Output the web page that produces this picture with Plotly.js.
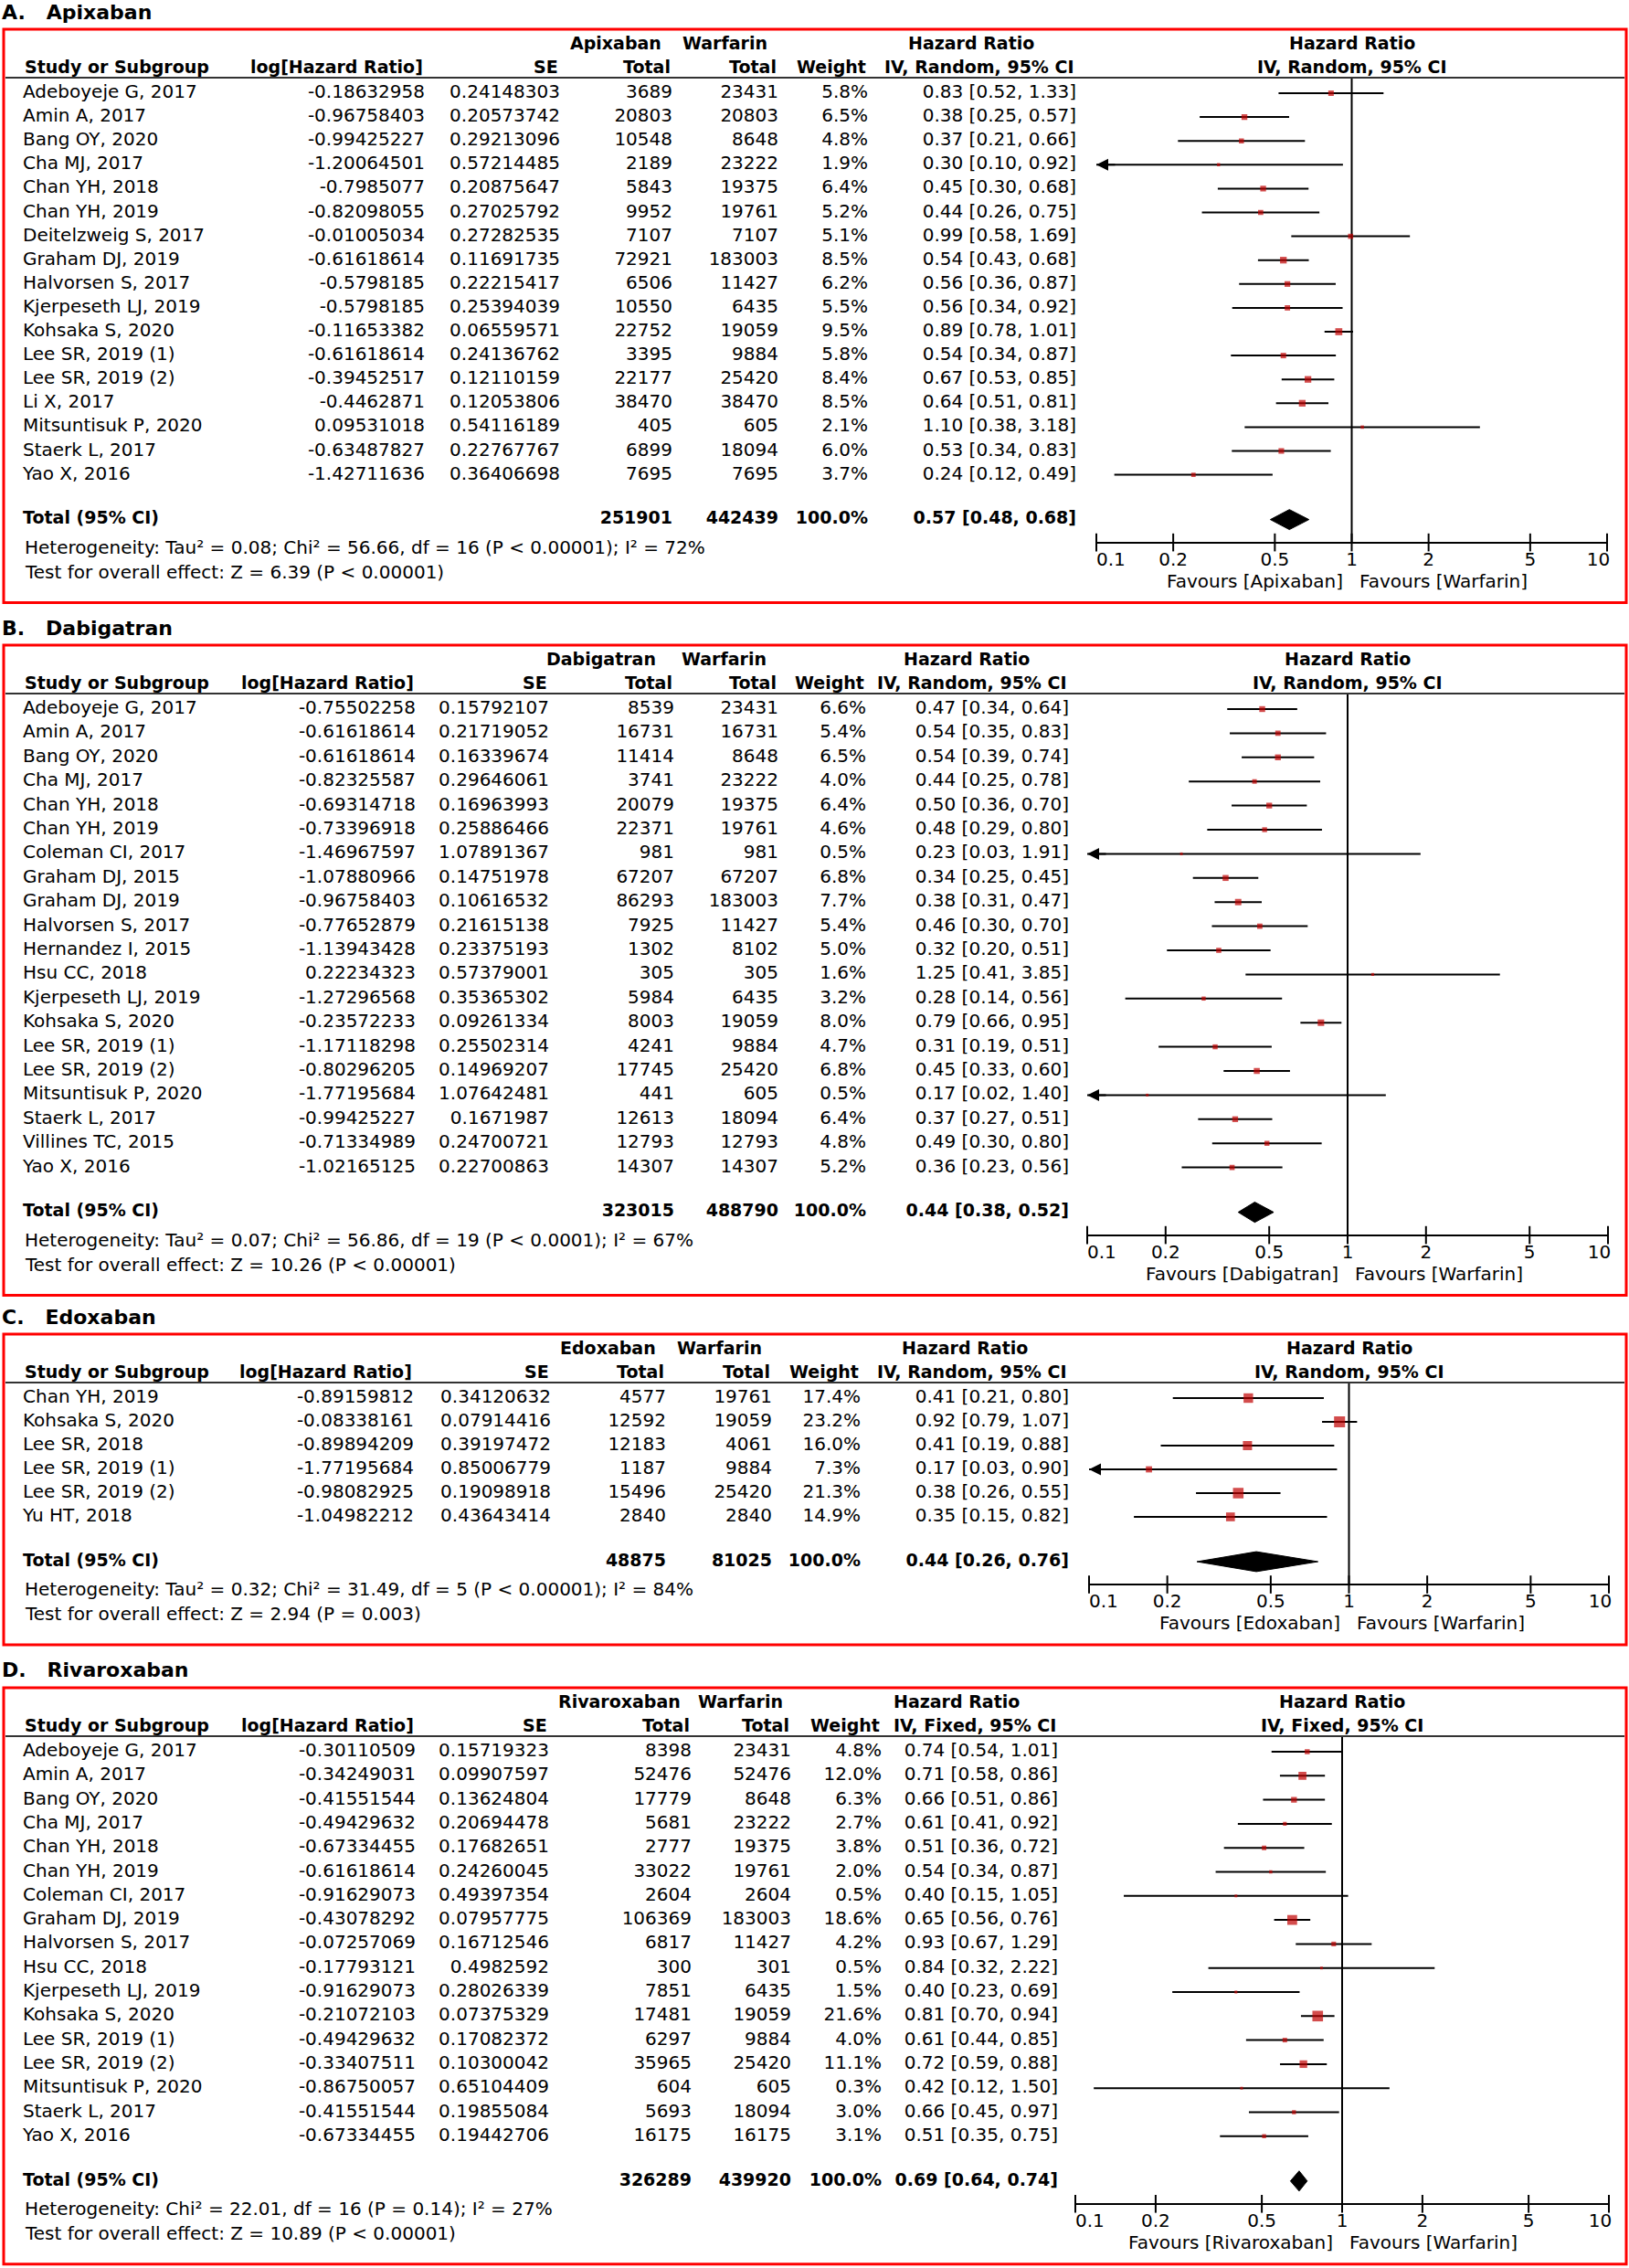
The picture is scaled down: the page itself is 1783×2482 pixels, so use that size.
<!DOCTYPE html>
<html>
<head>
<meta charset="utf-8">
<script src="https://cdn.plot.ly/plotly-3.0.1.min.js"></script>
<style>
body{margin:0;background:#fff;}
#plot{width:1783px;height:2482px;}
</style>
</head>
<body>
<div id="plot"></div>
<script>
/*A. Apixaban*/
apixStudy=['Adeboyeje G, 2017','Amin A, 2017','Bang OY, 2020','Cha MJ, 2017','Chan YH, 2018','Chan YH, 2019','Deitelzweig S, 2017','Graham DJ, 2019','Halvorsen S, 2017','Kjerpeseth LJ, 2019','Kohsaka S, 2020','Lee SR, 2019 (1)','Lee SR, 2019 (2)','Li X, 2017','Mitsuntisuk P, 2020','Staerk L, 2017','Yao X, 2016'];
apixLogHR=[-0.18632958,-0.96758403,-0.99425227,-1.20064501,-0.7985077,-0.82098055,-0.01005034,-0.61618614,-0.5798185,-0.5798185,-0.11653382,-0.61618614,-0.39452517,-0.4462871,0.09531018,-0.63487827,-1.42711636];
apixSE=[0.24148303,0.20573742,0.29213096,0.57214485,0.20875647,0.27025792,0.27282535,0.11691735,0.22215417,0.25394039,0.06559571,0.24136762,0.12110159,0.12053806,0.54116189,0.22767767,0.36406698];
apixN=[3689,20803,10548,2189,5843,9952,7107,72921,6506,10550,22752,3395,22177,38470,405,6899,7695];
apixWarfN=[23431,20803,8648,23222,19375,19761,7107,183003,11427,6435,19059,9884,25420,38470,605,18094,7695];
apixWeight=[5.8,6.5,4.8,1.9,6.4,5.2,5.1,8.5,6.2,5.5,9.5,5.8,8.4,8.5,2.1,6.0,3.7];
apixPooled=[0.57,0.48,0.68];
apixHet='Heterogeneity: Tau² = 0.08; Chi² = 56.66, df = 16 (P < 0.00001); I² = 72%';
apixZ='Test for overall effect: Z = 6.39 (P < 0.00001)';

/*B. Dabigatran*/
dabiStudy=['Adeboyeje G, 2017','Amin A, 2017','Bang OY, 2020','Cha MJ, 2017','Chan YH, 2018','Chan YH, 2019','Coleman CI, 2017','Graham DJ, 2015','Graham DJ, 2019','Halvorsen S, 2017','Hernandez I, 2015','Hsu CC, 2018','Kjerpeseth LJ, 2019','Kohsaka S, 2020','Lee SR, 2019 (1)','Lee SR, 2019 (2)','Mitsuntisuk P, 2020','Staerk L, 2017','Villines TC, 2015','Yao X, 2016'];
dabiLogHR=[-0.75502258,-0.61618614,-0.61618614,-0.82325587,-0.69314718,-0.73396918,-1.46967597,-1.07880966,-0.96758403,-0.77652879,-1.13943428,0.22234323,-1.27296568,-0.23572233,-1.17118298,-0.80296205,-1.77195684,-0.99425227,-0.71334989,-1.02165125];
dabiSE=[0.15792107,0.21719052,0.16339674,0.29646061,0.16963993,0.25886466,1.07891367,0.14751978,0.10616532,0.21615138,0.23375193,0.57379001,0.35365302,0.09261334,0.25502314,0.14969207,1.07642481,0.1671987,0.24700721,0.22700863];
dabiN=[8539,16731,11414,3741,20079,22371,981,67207,86293,7925,1302,305,5984,8003,4241,17745,441,12613,12793,14307];
dabiWarfN=[23431,16731,8648,23222,19375,19761,981,67207,183003,11427,8102,305,6435,19059,9884,25420,605,18094,12793,14307];
dabiWeight=[6.6,5.4,6.5,4.0,6.4,4.6,0.5,6.8,7.7,5.4,5.0,1.6,3.2,8.0,4.7,6.8,0.5,6.4,4.8,5.2];
dabiPooled=[0.44,0.38,0.52];
dabiHet='Heterogeneity: Tau² = 0.07; Chi² = 56.86, df = 19 (P < 0.0001); I² = 67%';
dabiZ='Test for overall effect: Z = 10.26 (P < 0.00001)';

/*C. Edoxaban*/
edoxStudy=['Chan YH, 2019','Kohsaka S, 2020','Lee SR, 2018','Lee SR, 2019 (1)','Lee SR, 2019 (2)','Yu HT, 2018'];
edoxLogHR=[-0.89159812,-0.08338161,-0.89894209,-1.77195684,-0.98082925,-1.04982212];
edoxSE=[0.34120632,0.07914416,0.39197472,0.85006779,0.19098918,0.43643414];
edoxN=[4577,12592,12183,1187,15496,2840];
edoxWarfN=[19761,19059,4061,9884,25420,2840];
edoxWeight=[17.4,23.2,16.0,7.3,21.3,14.9];
edoxPooled=[0.44,0.26,0.76];
edoxHet='Heterogeneity: Tau² = 0.32; Chi² = 31.49, df = 5 (P < 0.00001); I² = 84%';
edoxZ='Test for overall effect: Z = 2.94 (P = 0.003)';

/*D. Rivaroxaban*/
rivaStudy=['Adeboyeje G, 2017','Amin A, 2017','Bang OY, 2020','Cha MJ, 2017','Chan YH, 2018','Chan YH, 2019','Coleman CI, 2017','Graham DJ, 2019','Halvorsen S, 2017','Hsu CC, 2018','Kjerpeseth LJ, 2019','Kohsaka S, 2020','Lee SR, 2019 (1)','Lee SR, 2019 (2)','Mitsuntisuk P, 2020','Staerk L, 2017','Yao X, 2016'];
rivaLogHR=[-0.30110509,-0.34249031,-0.41551544,-0.49429632,-0.67334455,-0.61618614,-0.91629073,-0.43078292,-0.07257069,-0.17793121,-0.91629073,-0.21072103,-0.49429632,-0.33407511,-0.86750057,-0.41551544,-0.67334455];
rivaSE=[0.15719323,0.09907597,0.13624804,0.20694478,0.17682651,0.24260045,0.49397354,0.07957775,0.16712546,0.4982592,0.28026339,0.07375329,0.17082372,0.10300042,0.65104409,0.19855084,0.19442706];
rivaN=[8398,52476,17779,5681,2777,33022,2604,106369,6817,300,7851,17481,6297,35965,604,5693,16175];
rivaWarfN=[23431,52476,8648,23222,19375,19761,2604,183003,11427,301,6435,19059,9884,25420,605,18094,16175];
rivaWeight=[4.8,12.0,6.3,2.7,3.8,2.0,0.5,18.6,4.2,0.5,1.5,21.6,4.0,11.1,0.3,3.0,3.1];
rivaPooled=[0.69,0.64,0.74];
rivaHet='Heterogeneity: Chi² = 22.01, df = 16 (P = 0.14); I² = 27%';
rivaZ='Test for overall effect: Z = 10.89 (P < 0.00001)';

/*forest axis ticks*/
tickVals=[0.1,0.2,0.5,1,2,5,10];
tickLbl=['0.1','0.2','0.5','1','2','5','10'];

panels=[
    {tag:'A.',drug:'Apixaban',method:'IV, Random, 95% CI',study:apixStudy,lhr:apixLogHR,se:apixSE,n1:apixN,n2:apixWarfN,wt:apixWeight,pooled:apixPooled,het:apixHet,z:apixZ},
    {tag:'B.',drug:'Dabigatran',method:'IV, Random, 95% CI',study:dabiStudy,lhr:dabiLogHR,se:dabiSE,n1:dabiN,n2:dabiWarfN,wt:dabiWeight,pooled:dabiPooled,het:dabiHet,z:dabiZ},
    {tag:'C.',drug:'Edoxaban',method:'IV, Random, 95% CI',study:edoxStudy,lhr:edoxLogHR,se:edoxSE,n1:edoxN,n2:edoxWarfN,wt:edoxWeight,pooled:edoxPooled,het:edoxHet,z:edoxZ},
    {tag:'D.',drug:'Rivaroxaban',method:'IV, Fixed, 95% CI',study:rivaStudy,lhr:rivaLogHR,se:rivaSE,n1:rivaN,n2:rivaWarfN,wt:rivaWeight,pooled:rivaPooled,het:rivaHet,z:rivaZ}
];

/*where each panel sits on the page (px): box top, row step, forest x extent, column right edges*/
spots=[
    {top:32,  step:26.1,f0:1200,f1:1759,c:[465,613,736,852,950,1178],grp:[726,842],hr:1063},
    {top:706, step:26.4,f0:1190,f1:1760,c:[455,601,738,852,948,1170],grp:[720,841],hr:1058},
    {top:1460,step:26.0,f0:1192,f1:1761,c:[453,603,729,845,942,1170],grp:[720,836],hr:1056},
    {top:1847,step:26.3,f0:1177,f1:1761,c:[455,601,757,866,965,1158],grp:[747,859],hr:1047}
];

W=1783; H=2482;
FONT='DejaVu Sans, Verdana, sans-serif';
function py(y){return 1-y/H;}
function ax(k){return k==1?'':k;}
function sum(a){var s=0;for(var i=0;i<a.length;i++)s+=a[i];return s;}
function ci(h,l,u){return h.toFixed(2)+' ['+l.toFixed(2)+', '+u.toFixed(2)+']';}

/*RevMan puts the end labels (nearly) flush with the end ticks*/
tickText=tickLbl.slice();
tickText[0]='\u00a0\u00a0\u00a0\u00a0\u00a0'+tickText[0];
tickText[tickText.length-1]=tickText[tickText.length-1]+'\u00a0\u00a0\u00a0';

data=[];
ann=[];
shp=[];
layout={
    width:W,height:H,
    margin:{l:0,r:0,t:0,b:0,pad:0},
    paper_bgcolor:'#fff',
    plot_bgcolor:'rgba(0,0,0,0)',
    showlegend:false,
    font:{family:FONT,size:20,color:'#000'}
};

function note(x,y,text,anchor,size,bold){
    ann.push({xref:'paper',yref:'paper',x:x/W,y:py(y),text:bold?'<b>'+text+'</b>':text,
        xanchor:anchor,yanchor:'middle',showarrow:false,font:{family:FONT,size:size,color:'#000'}});
}

for(p=0;p<4;p++){
    d=panels[p]; s=spots[p];
    n=d.study.length;
    ya='y'+ax(p+1); xt='x'+ax(p+1); xf='x'+(p+5);
    row0=s.top+70;
    totPx=row0+(n-1)*s.step+49;
    axPx=totPx+25;
    botPx=totPx+91;
    hlPx=s.top+53;
    toRow=function(v){return (v-row0)/s.step;};
    totR=toRow(totPx);
    axR=toRow(axPx);

    layout['yaxis'+ax(p+1)]={domain:[py(botPx),py(s.top)],range:[toRow(botPx),toRow(s.top)],visible:false,fixedrange:true};
    layout['xaxis'+ax(p+1)]={domain:[0,1],range:[0,W],anchor:ya,visible:false,fixedrange:true};
    layout['xaxis'+(p+5)]={type:'log',range:[-1,1],domain:[s.f0/W,s.f1/W],anchor:'free',position:py(axPx),
        showline:true,linecolor:'#000',linewidth:2,ticks:'',
        tickmode:'array',tickvals:tickVals,ticktext:tickText,tickfont:{family:FONT,size:20,color:'#000'},
        ticklabeloverflow:'allow',showgrid:false,zeroline:false,fixedrange:true};

    /*study values*/
    rows=[];hr=[];lo=[];hi=[];
    for(i=0;i<n;i++){
        rows[i]=i;
        hr[i]=Math.exp(d.lhr[i]);
        lo[i]=Math.exp(d.lhr[i]-1.96*d.se[i]);
        hi[i]=Math.exp(d.lhr[i]+1.96*d.se[i]);
    }
    rowsT=rows.concat([totR]);

    cols=[
        {x:25,  y:rowsT,t:d.study.concat(['<b>Total (95% CI)</b>']),pos:'middle right'},
        {x:s.c[0],y:rows,t:d.lhr.map(String),pos:'middle left'},
        {x:s.c[1],y:rows,t:d.se.map(String),pos:'middle left'},
        {x:s.c[2],y:rowsT,t:d.n1.map(String).concat(['<b>'+sum(d.n1)+'</b>']),pos:'middle left'},
        {x:s.c[3],y:rowsT,t:d.n2.map(String).concat(['<b>'+sum(d.n2)+'</b>']),pos:'middle left'},
        {x:s.c[4],y:rowsT,t:d.wt.map(function(w){return w.toFixed(1)+'%';}).concat(['<b>100.0%</b>']),pos:'middle left'},
        {x:s.c[5],y:rowsT,t:hr.map(function(h,i){return ci(h,lo[i],hi[i]);}).concat(['<b>'+ci(d.pooled[0],d.pooled[1],d.pooled[2])+'</b>']),pos:'middle left'}
    ];
    for(j=0;j<cols.length;j++){
        data.push({type:'scatter',mode:'text',xaxis:xt,yaxis:ya,
            x:cols[j].y.map(function(){return cols[j].x;}),y:cols[j].y,text:cols[j].t,
            textposition:cols[j].pos,
            textfont:{family:FONT,size:cols[j].y.map(function(v){return v==totR?19:20;}),color:'#000'},
            hoverinfo:'skip',cliponaxis:false});
    }

    /*line of no effect*/
    data.push({type:'scatter',mode:'lines',xaxis:xf,yaxis:ya,x:[1,1],y:[toRow(hlPx),axR],
        line:{color:'#000',width:2},hoverinfo:'skip'});

    /*ticks crossing the axis line*/
    data.push({type:'scatter',mode:'markers',xaxis:xf,yaxis:ya,x:tickVals,y:tickVals.map(function(){return axR;}),
        marker:{symbol:'line-ns',size:14,line:{width:2,color:'#000'}},hoverinfo:'skip',cliponaxis:false});

    /*study squares with CI*/
    data.push({type:'scatter',mode:'markers',xaxis:xf,yaxis:ya,x:hr,y:rows,
        marker:{symbol:'square',color:'#c00000',size:d.wt.map(function(w){return Math.max(3,2.5*Math.sqrt(w));}),line:{width:0}},
        error_x:{type:'data',symmetric:false,array:hi.map(function(v,i){return v-hr[i];}),arrayminus:lo.map(function(v,i){return hr[i]-v;}),
            color:'#000',thickness:2,width:0},
        hoverinfo:'skip'});

    /*arrows where the CI runs off the left*/
    for(i=0;i<n;i++){
        if(lo[i]<tickVals[0])
            ann.push({xref:xf,yref:ya,x:Math.log10(tickVals[0]),y:i,ax:22,ay:0,text:'',showarrow:true,
                arrowhead:2,arrowsize:1.3,arrowwidth:2,arrowcolor:'#000',standoff:0});
    }

    /*pooled diamond*/
    pl=d.pooled;
    data.push({type:'scatter',mode:'lines',xaxis:xf,yaxis:ya,fill:'toself',fillcolor:'#000',
        x:[pl[1],pl[0],pl[2],pl[0],pl[1]],y:[totR,totR-0.42,totR,totR+0.42,totR],
        line:{color:'#000',width:1},hoverinfo:'skip'});

    /*box and header rule*/
    shp.push({type:'rect',xref:'paper',yref:'paper',x0:4/W,x1:1780/W,y0:py(botPx),y1:py(s.top),line:{color:'#ff0000',width:3}});
    shp.push({type:'line',xref:'paper',yref:'paper',x0:6/W,x1:1778/W,y0:py(hlPx),y1:py(hlPx),line:{color:'#333',width:2}});

    /*titles and headers*/
    note(0,s.top-19,d.tag+'\u00a0\u00a0\u00a0'+d.drug,'left',22,true);
    h1=s.top+15; h2=s.top+41;
    note(s.grp[0],h1,d.drug,'right',19,true);
    note(s.grp[1],h1,'Warfarin','right',19,true);
    note(s.hr,h1,'Hazard Ratio','center',19,true);
    note(25,h2,'Study or Subgroup','left',19,true);
    note(s.c[0],h2,'log[Hazard Ratio]','right',19,true);
    note(s.c[1],h2,'SE','right',19,true);
    note(s.c[2],h2,'Total','right',19,true);
    note(s.c[3],h2,'Total','right',19,true);
    note(s.c[4],h2,'Weight','right',19,true);
    note(s.c[5],h2,d.method,'right',19,true);
    ann.push({xref:xf,yref:'paper',x:0,y:py(h1),text:'<b>Hazard Ratio</b>',xanchor:'center',yanchor:'middle',showarrow:false,font:{family:FONT,size:19,color:'#000'}});
    ann.push({xref:xf,yref:'paper',x:0,y:py(h2),text:'<b>'+d.method+'</b>',xanchor:'center',yanchor:'middle',showarrow:false,font:{family:FONT,size:19,color:'#000'}});

    /*footer*/
    note(25,totPx+30,d.het,'left',20,false);
    note(25,totPx+57,d.z,'left',20,false);
    ann.push({xref:xf,yref:'paper',x:0,y:py(axPx+42),xshift:-8,text:'Favours ['+d.drug+']',xanchor:'right',yanchor:'middle',showarrow:false,font:{family:FONT,size:20,color:'#000'}});
    ann.push({xref:xf,yref:'paper',x:0,y:py(axPx+42),xshift:6,text:'Favours [Warfarin]',xanchor:'left',yanchor:'middle',showarrow:false,font:{family:FONT,size:20,color:'#000'}});
}

layout.annotations=ann;
layout.shapes=shp;
Plotly.newPlot('plot',data,layout,{displayModeBar:false,staticPlot:true});
</script>
</body>
</html>
